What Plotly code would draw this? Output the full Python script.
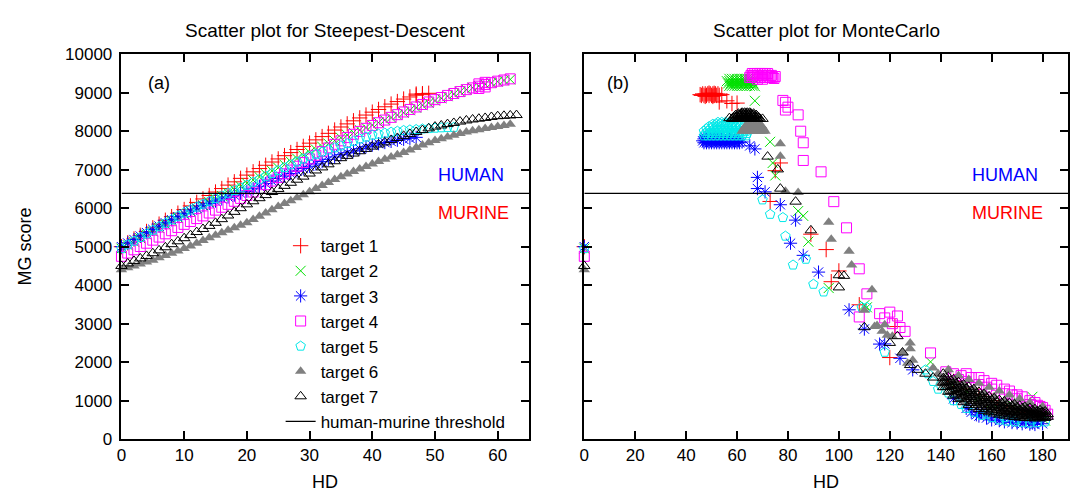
import plotly.graph_objects as go

# ---------------- data: (HD, MG score) ----------------
THRESHOLD = 6385
SD_XRANGE = [0, 65]
MC_XRANGE = [0, 190]
Y_RANGE = [0, 10000]

SERIES_NAMES = ["target 1", "target 2", "target 3", "target 4", "target 5", "target 6", "target 7"]

# Steepest-Descent panel
sd_t1 = [(0,5000),(1,5100),(2,5200),(3,5295),(4,5395),(5,5490),(6,5585),(7,5685),(8,5780),(9,5870),
         (10,5965),(11,6060),(12,6150),(13,6240),(14,6330),(15,6420),(16,6510),(17,6600),(18,6685),(19,6775),
         (20,6860),(21,6945),(22,7030),(23,7115),(24,7200),(25,7280),(26,7365),(27,7445),(28,7525),(29,7605),
         (30,7690),(31,7775),(32,7860),(33,7945),(34,8030),(35,8110),(36,8190),(37,8270),(38,8345),(39,8420),
         (40,8495),(41,8565),(42,8635),(43,8705),(44,8770),(45,8835),(46,8890),(47,8935),(47,8965),(48,8950),
         (48,8975),(49,8985)]
sd_t2 = [(0,4950),(1,5040),(2,5130),(3,5220),(4,5310),(5,5400),(6,5490),(7,5580),(8,5665),(9,5750),
         (10,5840),(11,5920),(12,6000),(13,6080),(14,6160),(15,6240),(16,6320),(17,6400),(18,6485),(19,6570),
         (20,6650),(21,6730),(22,6810),(23,6890),(24,6970),(25,7050),(26,7130),(27,7210),(28,7290),(29,7370),
         (30,7450),(31,7525),(32,7600),(33,7680),(34,7755),(35,7830),(36,7900),(37,7965),(38,8030),(39,8095),
         (40,8160),(41,8225),(42,8290),(43,8355),(44,8420),(45,8480),(46,8545),(47,8610),(48,8675),(49,8735),
         (50,8795),(51,8855),(52,8910),(53,8965),(54,9025),(55,9080),(56,9130),(57,9175),(58,9220),(59,9255),
         (60,9290),(61,9320),(62,9345)]
sd_t3 = [(0,5000),(1,5095),(2,5185),(3,5275),(4,5365),(5,5450),(6,5535),(7,5620),(8,5700),(9,5780),
         (10,5860),(11,5930),(12,6000),(13,6065),(14,6125),(15,6185),(16,6240),(17,6290),(18,6340),(19,6390),
         (20,6440),(21,6505),(22,6570),(23,6640),(24,6705),(25,6770),(26,6835),(27,6900),(28,6965),(29,7030),
         (30,7090),(31,7150),(32,7210),(33,7270),(34,7330),(35,7390),(36,7440),(37,7490),(38,7545),(39,7595),
         (40,7640),(41,7675),(42,7705),(43,7735),(44,7765),(45,7790),(46,7815),(47,7840)]
sd_t4 = [(0,4750),(1,4835),(2,4920),(3,5005),(4,5090),(5,5170),(6,5250),(7,5335),(8,5415),(9,5500),
         (10,5580),(11,5655),(12,5730),(13,5800),(14,5875),(15,5950),(16,6025),(17,6100),(18,6180),(19,6255),
         (20,6330),(21,6420),(22,6510),(23,6610),(24,6705),(25,6800),(26,6895),(27,6990),(28,7090),(29,7185),
         (30,7280),(31,7375),(32,7470),(33,7565),(34,7660),(35,7750),(36,7835),(37,7920),(38,7995),(39,8075),
         (40,8150),(41,8220),(42,8290),(43,8360),(44,8430),(45,8500),(46,8565),(47,8630),(48,8695),(49,8760),
         (50,8820),(51,8875),(52,8930),(53,8980),(54,9030),(55,9080),(56,9125),(57,9170),(58,9215),(59,9260),
         (60,9300),(61,9330),(62,9360),(57,9110),(57,9230),(58,9150),(58,9270)]
sd_t5 = [(0,4950),(1,5050),(2,5145),(3,5240),(4,5335),(5,5430),(6,5520),(7,5610),(8,5700),(9,5790),
         (10,5880),(11,5955),(12,6030),(13,6105),(14,6180),(15,6250),(16,6320),(17,6390),(18,6460),(19,6530),
         (20,6600),(21,6675),(22,6750),(23,6830),(24,6905),(25,6980),(26,7055),(27,7130),(28,7205),(29,7280),
         (30,7350),(31,7405),(32,7460),(33,7515),(34,7570),(35,7620),(36,7680),(37,7740),(38,7800),(39,7850),
         (40,7900),(41,7925),(42,7950),(43,7975),(44,8000),(45,8020),(46,8035),(47,8045),(48,8060),(49,8070),
         (50,8080),(51,8090),(52,8095),(53,8100)]
sd_t6 = [(0,4400),(1,4450),(2,4500),(3,4550),(4,4600),(5,4650),(6,4710),(7,4770),(8,4830),(9,4890),
         (10,4950),(11,5020),(12,5090),(13,5160),(14,5230),(15,5300),(16,5365),(17,5430),(18,5495),(19,5560),
         (20,5620),(21,5705),(22,5790),(23,5875),(24,5960),(25,6045),(26,6120),(27,6195),(28,6270),(29,6350),
         (30,6430),(31,6510),(32,6590),(33,6665),(34,6745),(35,6820),(36,6890),(37,6955),(38,7020),(39,7085),
         (40,7150),(41,7210),(42,7270),(43,7330),(44,7390),(45,7450),(46,7515),(47,7575),(48,7640),(49,7700),
         (50,7760),(51,7805),(52,7850),(53,7895),(54,7940),(55,7980),(56,8010),(57,8040),(58,8070),(59,8095),
         (60,8120),(61,8150),(62,8180)]
sd_t7 = [(0,4500),(1,4565),(2,4630),(3,4695),(4,4760),(5,4830),(6,4905),(7,4985),(8,5065),(9,5140),
         (10,5220),(11,5300),(12,5380),(13,5460),(14,5540),(15,5620),(16,5715),(17,5810),(18,5905),(19,6000),
         (20,6100),(21,6180),(22,6260),(23,6340),(24,6420),(25,6500),(26,6580),(27,6660),(28,6740),(29,6820),
         (30,6900),(31,6980),(32,7060),(33,7140),(34,7220),(35,7300),(36,7360),(37,7420),(38,7480),(39,7540),
         (40,7600),(41,7655),(42,7710),(43,7770),(44,7825),(45,7880),(46,7930),(47,7980),(48,8030),(49,8075),
         (50,8120),(51,8150),(52,8185),(53,8215),(54,8250),(55,8280),(56,8305),(57,8325),(58,8345),(59,8370),
         (60,8390),(61,8400),(62,8410),(63,8420)]

# MonteCarlo panel: start point, early cluster, descending tail, late cluster
mc_t1_start = [(0,5000),
               (46,8930),(47,8930),(48,8930),(49,8930),(50,8930),(51,8930),(52,8930),(53,8930),
               (46.5,8970),(47.5,8970),(48.5,8970),(49.5,8970),(50.5,8970),(51.5,8970),(52.5,8970),
               (45.5,8950),(54,8950),(47.5,8905),(50.5,8905),(49,8990),(51,8985)]
mc_t1_tail = [(53,8760),(56,8790),(58,8720),(60,8730),(73,6175),(75,6975),(77,7175),(89,5325),(95,4925),
              (97,4090),(100,4370),(108,3490),(120,2120),(122,2925)]
mc_t1_end = [(145,1500),(150,1300),(155,1150),(158,1050),(160,1000),(163,900),(166,850),(168,800),
             (170,750),(173,700),(176,650),(178,600)]

mc_t2_start = [(0,4950),
               (57,9180),(58,9180),(59,9180),(60,9180),(61,9180),(62,9180),(63,9180),(64,9180),(65,9180),(66,9180),
               (56.5,9240),(57.5,9240),(58.5,9240),(59.5,9240),(60.5,9240),(61.5,9240),(62.5,9240),(63.5,9240),
               (64.5,9240),(65.5,9240),(66.5,9240),
               (56,9300),(57,9300),(58,9300),(59,9300),(60,9300),(61,9300),(62,9300),(63,9300),(64,9300),
               (65,9300),(66,9300),
               (57,9360),(58,9360),(59,9360),(60,9360),(61,9360),(62,9360),(63,9360),(64,9360),(65,9360)]
mc_t2_tail = [(67,9170),(67,8790),(73,7725),(74,7175),(75,6850),(84,5925),(86,5800),(88,5130),(96,3925),
              (110,3480),(111,3425),(136,2008)]
mc_t2_end = [(145,1400),(150,1250),(155,1100),(160,950),(165,850),(168,900),(170,750),(172,800),
             (175,700),(176,1100),(180,620),(181,480)]

mc_t3_start = [(0,5000),
               (47,7700),(48,7700),(49,7700),(50,7700),(51,7700),(52,7700),(53,7700),(54,7700),(55,7700),
               (56,7700),(57,7700),(58,7700),(59,7700),(60,7700),(61,7700),
               (46.5,7750),(47.5,7750),(48.5,7750),(49.5,7750),(50.5,7750),(51.5,7750),(52.5,7750),(53.5,7750),
               (54.5,7750),(55.5,7750),(56.5,7750),(57.5,7750),(58.5,7750),(59.5,7750),(60.5,7750),
               (47,7800),(48,7800),(49,7800),(50,7800),(51,7800),(52,7800),(53,7800),(54,7800),(55,7800),
               (56,7800),(57,7800),(58,7800),(59,7800),
               (47.5,7850),(48.5,7850),(49.5,7850),(50.5,7850),(51.5,7850),(52.5,7850),(53.5,7850),(54.5,7850),
               (62,7720),(65,7620),(67,7540)]
mc_t3_tail = [(68,6800),(68,6510),(71,6425),(77,6090),(83,5690),(81,5090),(86,4775),(92,4340),(104,3360),
              (110,2860),(116,2470),(118,2475),(124,2100),(129,1800),(145,1050)]
mc_t3_end = [(150,800),(152,700),(154,633),(155,600),(156,700),(158,550),(160,500),(162,560),(163,480),
             (165,450),(167,520),(168,430),(170,420),(170,480),(172,400),(173,470),(175,390),(176,420),
             (177,380),(178,450),(180,400)]

mc_t4_start = [(0,4750),
               (65,9400),(66,9400),(67,9400),(68,9400),(69,9400),(70,9400),(71,9400),(72,9400),(73,9400),
               (74,9400),
               (65.5,9450),(66.5,9450),(67.5,9450),(68.5,9450),(69.5,9450),(70.5,9450),(71.5,9450),
               (72.5,9450),(73.5,9450),
               (66,9500),(67,9500),(68,9500),(69,9500),(70,9500),(71,9500),(72,9500),
               (75,9420),(74.5,9370),(68,9350),(70,9350)]
mc_t4_tail = [(78,8800),(79,8750),(79,8550),(80,8625),(84,8425),(85,8000),(86,7700),(86,7240),(93,6945),
              (98,6170),(103,5490),(108,4425),(111,3775),(108,3175),(116,3260),(118,3150),(120,3300),
              (121,3000),(123,3200),(124,2900),(126,2800),(136,2240)]
mc_t4_end = [(142,1750),(145,1700),(148,1650),(150,1700),(150,1500),(152,1600),(155,1600),(155,1420),
             (157,1520),(160,1450),(160,1300),(162,1400),(165,1300),(165,1180),(167,1250),(170,1150),
             (170,1050),(172,1100),(175,1000),(175,900),(177,950),(179,850),(180,820),(181,750),(182,650),
             (147,1550),(158,1350),(168,1150),(178,880)]

mc_t5_start = [(0,4950),
               (47,7880),(48.5,7880),(50,7880),(51.5,7880),(53,7880),(54.5,7880),(56,7880),(57.5,7880),
               (59,7880),(60.5,7880),(62,7880),(63.5,7880),
               (47.5,7940),(49,7940),(50.5,7940),(52,7940),(53.5,7940),(55,7940),(56.5,7940),(58,7940),
               (59.5,7940),(61,7940),(62.5,7940),(64,7940),
               (47,8000),(48.5,8000),(50,8000),(51.5,8000),(53,8000),(54.5,8000),(56,8000),(57.5,8000),
               (59,8000),(60.5,8000),(62,8000),(63.5,8000),
               (48,8060),(49.5,8060),(51,8060),(52.5,8060),(54,8060),(55.5,8060),(57,8060),(58.5,8060),
               (60,8060),(61.5,8060),(63,8060),
               (49,8120),(50.5,8120),(52,8120),(53.5,8120),(55,8120),(56.5,8120),(58,8120),(59.5,8120),
               (61,8120),(62.5,8120),
               (50.5,8180),(52,8180),(53.5,8180),(55,8180),(56.5,8180),(58,8180),(59.5,8180),(61,8180),
               (52.5,8230),(54,8230),(55.5,8230),(57,8230),(58.5,8230)]
mc_t5_tail = [(70,6217),(73,5842),(78,5758),(79,5275),(82,4525),(87,4675),(90,4025),(94,3825),(109,3425),
              (111,3425),(118,2258),(134,1800),(135,1700),(137,1500),(139,1300),(140,1400),(143,1200)]
mc_t5_end = [(145,1000),(148,900),(150,800),(153,700),(156,620),(158,650),(160,560),(163,500),(165,560),
             (166,470),(169,450),(170,520),(172,430),(175,420),(176,500),(178,430),(181,450)]

mc_t6_start = [(0,4400),
               (62,8000),(63,8000),(64,8000),(65,8000),(66,8000),(67,8000),(68,8000),(69,8000),(70,8000),
               (71,8000),
               (62.5,8050),(63.5,8050),(64.5,8050),(65.5,8050),(66.5,8050),(67.5,8050),(68.5,8050),
               (69.5,8050),(70.5,8050),
               (63,8100),(64,8100),(65,8100),(66,8100),(67,8100),(68,8100),(69,8100),(70,8100),
               (63.5,8150),(64.5,8150),(65.5,8150),(66.5,8150),(67.5,8150),(68.5,8150),(69.5,8150)]
mc_t6_tail = [(77,7675),(77,7350),(79,6442),(84,6408),(96,5633),(97,5192),(104,4883),(105,4525),(110,3350),
              (113,3883),(114,2925),(115,2950),(117,2800),(118,2975),(119,2700),(121,2675),(125,2250),
              (127,1975),(128,2500),(128,2350),(129,2050)]
mc_t6_end = [(137,1850),(139,1700),(141,1600),(143,1800),(145,1500),(147,1650),(149,1400),(151,1550),
             (153,1300),(155,1450),(157,1200),(159,1350),(161,1100),(163,1250),(165,1000),(167,1150),
             (169,950),(171,1050),(173,850),(175,950),(177,780),(179,700),(180,850),(140,1450),(146,1250),
             (152,1150),(158,1000),(164,900),(170,800),(176,700),(150,1100),(160,850),(168,700),(174,620),
             (178,560),(155,950),(165,700),(172,550),(142,1400),(148,1200)]

mc_t7_start = [(0,4500),
               (58,8320),(59,8320),(60,8320),(61,8320),(62,8320),(63,8320),(64,8320),(65,8320),(66,8320),
               (67,8320),(68,8320),(69,8320),(70,8320),
               (58.5,8350),(59.5,8350),(60.5,8350),(61.5,8350),(62.5,8350),(63.5,8350),(64.5,8350),
               (65.5,8350),(66.5,8350),(67.5,8350),(68.5,8350),
               (59,8385),(60,8385),(61,8385),(62,8385),(63,8385),(64,8385),(65,8385),(66,8385),(67,8385),
               (68,8385),
               (59.5,8420),(60.5,8420),(61.5,8420),(62.5,8420),(63.5,8420),(64.5,8420),(65.5,8420),
               (66.5,8420),(67.5,8420),
               (60.5,8455),(61.5,8455),(62.5,8455),(63.5,8455),(64.5,8455),(65.5,8455),(66.5,8455),
               (62,8480),(63,8480),(64,8480),(65,8480),(57,8340)]
mc_t7_tail = [(72,7340),(76,7008),(77,6508),(83,6170),(89,5425),(100,4258),(102,4242),(100,3942),
              (110,2908),(120,2500),(123,2675),(125,2250),(128,1925),(131,1800),(134,1700),(137,1600)]
mc_t7_end = [(141,1350),(141,1467),(141,1583),(141,1700),(142,1352),(142,1475),(142,1598),
             (143,1230),(143,1360),(143,1490),(143,1620),(144,1248),(144,1383),(144,1518),
             (145,1130),(145,1270),(145,1410),(145,1550),(146,1157),(146,1300),(146,1443),
             (147,1040),(147,1187),(147,1333),(147,1480),(148,1075),(148,1225),(148,1375),
             (149,960),(149,1113),(149,1267),(149,1420),(150,1003),(150,1158),(150,1313),
             (151,890),(151,1047),(151,1203),(151,1360),(152,938),(152,1095),(152,1252),
             (153,830),(153,987),(153,1143),(153,1300),(154,882),(154,1035),(154,1188),
             (155,780),(155,930),(155,1080),(155,1230),(156,832),(156,979),(156,1126),
             (157,735),(157,880),(157,1025),(157,1170),(158,788),(158,929),(158,1070),
             (159,700),(159,837),(159,973),(159,1110),(160,750),(160,884),(160,1018),
             (161,665),(161,797),(161,928),(161,1060),(162,715),(162,845),(162,975),
             (163,635),(163,763),(163,892),(163,1020),(164,685),(164,811),(164,937),
             (165,610),(165,733),(165,857),(165,980),(166,660),(166,780),(166,900),
             (167,590),(167,707),(167,823),(167,940),(168,638),(168,751),(168,864),
             (169,575),(169,683),(169,792),(169,900),(170,621),(170,726),(170,832),
             (171,560),(171,663),(171,767),(171,870),(172,605),(172,705),(172,805),
             (173,550),(173,647),(173,743),(173,840),(174,594),(174,686),(174,779),
             (175,545),(175,633),(175,722),(175,810),(176,584),(176,668),(176,753),
             (177,540),(177,620),(177,700),(177,780),(178,578),(178,652),(178,727),
             (179,540),(179,610),(179,680),(179,750),(180,577),(180,640),(180,703),
             (181,550),(181,607),(181,663),(181,720),(182,580),(182,650)]

SD_DATA = [sd_t1, sd_t2, sd_t3, sd_t4, sd_t5, sd_t6, sd_t7]
MC_DATA = [mc_t1_start + mc_t1_tail + mc_t1_end,
           mc_t2_start + mc_t2_tail + mc_t2_end,
           mc_t3_start + mc_t3_tail + mc_t3_end,
           mc_t4_start + mc_t4_tail + mc_t4_end,
           mc_t5_start + mc_t5_tail + mc_t5_end,
           mc_t6_start + mc_t6_tail + mc_t6_end,
           mc_t7_start + mc_t7_tail + mc_t7_end]

# ---------------- styling ----------------
STYLES = [
    dict(symbol="cross-thin-open", color="#ff0000", size=11),
    dict(symbol="x-thin-open", color="#00e000", size=10),
    dict(symbol="asterisk-open", color="#0000ff", size=11),
    dict(symbol="square-open", color="#ff00ff", size=10),
    dict(symbol="pentagon-open", color="#00e8e8", size=10),
    dict(symbol="triangle-up", color="#808080", size=10),
    dict(symbol="triangle-up-open", color="#000000", size=10),
]

W, H = 1073, 504
FONT = "Liberation Sans, Arial, sans-serif"
FS = 18


def px(xp):
    return xp / W


def py(yp):
    return 1 - yp / H


fig = go.Figure()

for name, sd, mc, st in zip(SERIES_NAMES, SD_DATA, MC_DATA, STYLES):
    filled = not st["symbol"].endswith("open")
    marker = dict(symbol=st["symbol"], size=st["size"], color=st["color"],
                  line=dict(width=0 if filled else 1, color=st["color"]))
    sx, sy = zip(*sd)
    fig.add_trace(go.Scatter(x=sx, y=sy, mode="markers", name=name, marker=marker,
                             xaxis="x", yaxis="y", cliponaxis=False, legendgroup=name))
    mx, my = zip(*mc)
    fig.add_trace(go.Scatter(x=mx, y=my, mode="markers", name=name, marker=marker,
                             xaxis="x2", yaxis="y2", cliponaxis=False, legendgroup=name,
                             showlegend=False))

fig.add_trace(go.Scatter(x=SD_XRANGE, y=[THRESHOLD, THRESHOLD], mode="lines",
                         name="human-murine threshold", line=dict(color="black", width=1.3),
                         xaxis="x", yaxis="y"))
fig.add_trace(go.Scatter(x=MC_XRANGE, y=[THRESHOLD, THRESHOLD], mode="lines",
                         name="human-murine threshold", line=dict(color="black", width=1.3),
                         xaxis="x2", yaxis="y2", showlegend=False))

axis_common = dict(showline=True, linecolor="black", linewidth=1.5, mirror="allticks",
                   ticks="inside", ticklen=8, tickwidth=1.5, tickcolor="black",
                   showgrid=False, zeroline=False, tickformat="d",
                   tickfont=dict(family=FONT, size=17, color="black"))

ydom = [py(447), py(47)]
fig.update_layout(
    width=W, height=H,
    margin=dict(l=0, r=0, t=0, b=0),
    paper_bgcolor="white", plot_bgcolor="white",
    font=dict(family=FONT, size=FS, color="black"),
    xaxis=dict(domain=[px(117), px(526.5)], range=SD_XRANGE, dtick=10, anchor="y", **axis_common),
    yaxis=dict(domain=ydom, range=Y_RANGE, dtick=1000, anchor="x", ticklabelstandoff=4,
               **axis_common),
    xaxis2=dict(domain=[px(582), px(1068)], range=MC_XRANGE, dtick=20, anchor="y2", **axis_common),
    yaxis2=dict(domain=ydom, range=Y_RANGE, dtick=1000, anchor="x2", showticklabels=False,
                **axis_common),
    showlegend=True,
    legend=dict(x=px(508), y=py(447), xanchor="right", yanchor="bottom",
                bgcolor="rgba(0,0,0,0)", font=dict(family=FONT, size=17),
                tracegroupgap=0, itemwidth=30),
)

ann = [
    dict(text="Scatter plot for Steepest-Descent", x=px(322), y=py(22), font=dict(family=FONT, size=19, color="black")),
    dict(text="Scatter plot for MonteCarlo", x=px(825), y=py(22), font=dict(family=FONT, size=19, color="black")),
    dict(text="HD", x=px(322), y=py(492)),
    dict(text="HD", x=px(825), y=py(492)),
    dict(text="MG score", x=px(20), y=py(247), textangle=-90),
    dict(text="(a)", x=px(142), y=py(77), xanchor="left"),
    dict(text="(b)", x=px(603), y=py(77), xanchor="left"),
    dict(text="HUMAN", x=px(433), y=py(172), xanchor="left", font=dict(color="#0000ff", size=FS, family=FONT)),
    dict(text="MURINE", x=px(433), y=py(212), xanchor="left", font=dict(color="#ff0000", size=FS, family=FONT)),
    dict(text="HUMAN", x=px(970), y=py(172), xanchor="left", font=dict(color="#0000ff", size=FS, family=FONT)),
    dict(text="MURINE", x=px(970), y=py(212), xanchor="left", font=dict(color="#ff0000", size=FS, family=FONT)),
]
for a in ann:
    a.setdefault("xanchor", "center")
    a.setdefault("font", dict(family=FONT, size=FS, color="black"))
    fig.add_annotation(xref="paper", yref="paper", yanchor="middle", showarrow=False, **a)

fig.write_html("out.html", config={"displayModeBar": False},
               post_script="document.body.style.margin='0px';document.body.style.overflow='hidden';")
